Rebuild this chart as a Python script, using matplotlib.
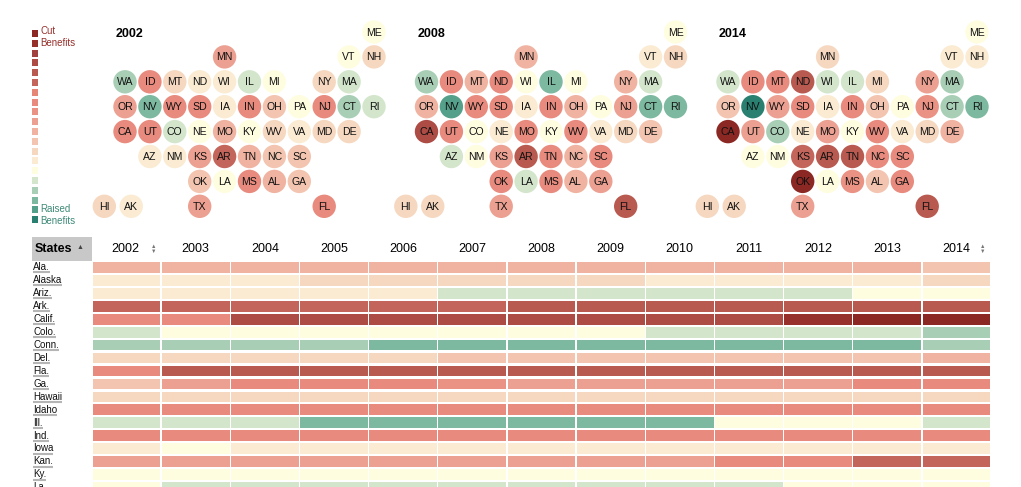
import matplotlib
matplotlib.use("Agg")
import matplotlib.pyplot as plt
from matplotlib.patches import Circle, Rectangle

plt.rcParams['font.family'] = ['Liberation Sans', 'DejaVu Sans']

# 20-step colour scale, from "cut benefits" (0) to "raised benefits" (19)
palette = ['#8B2823', '#96302B', '#A0403F', '#AD4B45', '#B95A50',
           '#C4655B', '#E58677', '#E88A7D', '#EA9283', '#ECA091',
           '#F0B3A1', '#F3C5B0', '#F6D8C0', '#FAEBD2', '#FFFDE0',
           '#D3E6CC', '#A8CFB6', '#7DB8A0', '#55A08A', '#2A8070']

years = [2002, 2003, 2004, 2005, 2006, 2007, 2008,
         2009, 2010, 2011, 2012, 2013, 2014]
map_years = [2002, 2008, 2014]

# table rows (level on the colour scale for each year)
row_labels = ['Ala.', 'Alaska', 'Ariz.', 'Ark.', 'Calif.', 'Colo.', 'Conn.', 'Del.',
              'Fla.', 'Ga.', 'Hawaii', 'Idaho', 'Ill.', 'Ind.', 'Iowa', 'Kan.', 'Ky.', 'La.']
row_abbr = ['AL', 'AK', 'AZ', 'AR', 'CA', 'CO', 'CT', 'DE',
            'FL', 'GA', 'HI', 'ID', 'IL', 'IN', 'IA', 'KS', 'KY', 'LA']
row_levels = [
    [10, 10, 10, 10, 10, 10, 10, 10, 10, 10, 10, 10, 11],
    [13, 13, 13, 12, 12, 12, 12, 12, 13, 13, 13, 13, 12],
    [13, 13, 13, 13, 13, 15, 15, 15, 15, 15, 15, 14, 14],
    [5, 5, 5, 5, 5, 5, 4, 4, 4, 4, 4, 4, 4],
    [7, 7, 3, 3, 3, 3, 3, 3, 3, 3, 1, 0, 0],
    [15, 14, 14, 14, 14, 14, 14, 14, 15, 15, 15, 15, 16],
    [16, 16, 16, 16, 17, 17, 17, 17, 17, 17, 17, 17, 16],
    [12, 12, 12, 12, 12, 11, 11, 11, 11, 11, 11, 11, 10],
    [7, 4, 4, 4, 4, 4, 4, 4, 4, 4, 4, 4, 4],
    [11, 9, 7, 7, 7, 8, 9, 9, 9, 9, 9, 7, 7],
    [12, 12, 12, 12, 12, 12, 12, 12, 12, 12, 12, 12, 12],
    [7, 7, 7, 7, 7, 7, 7, 7, 7, 7, 7, 7, 7],
    [15, 15, 15, 17, 17, 17, 17, 17, 17, 14, 14, 14, 15],
    [7, 7, 7, 7, 7, 7, 7, 7, 7, 7, 7, 7, 7],
    [13, 14, 13, 13, 13, 13, 13, 13, 13, 13, 13, 13, 13],
    [9, 9, 9, 9, 9, 9, 9, 9, 9, 7, 7, 5, 5],
    [14, 14, 14, 14, 14, 14, 14, 14, 14, 14, 14, 14, 14],
    [14, 15, 15, 15, 15, 15, 15, 15, 15, 15, 14, 14, 14],
]

# map-only states for the three years shown
map_2002 = {'ME': 14, 'VT': 14, 'NH': 12, 'MN': 9, 'WA': 16, 'MT': 12, 'ND': 13, 'WI': 13,
            'MI': 14, 'NY': 12, 'MA': 15, 'OR': 9, 'NV': 17, 'WY': 7, 'SD': 7, 'OH': 11,
            'PA': 14, 'NJ': 7, 'RI': 15, 'UT': 7, 'NE': 14, 'MO': 10, 'WV': 12, 'VA': 13,
            'MD': 12, 'NM': 13, 'TN': 10, 'NC': 11, 'SC': 11, 'OK': 11, 'MS': 7, 'TX': 9}
map_2008 = {'ME': 14, 'VT': 13, 'NH': 12, 'MN': 10, 'WA': 16, 'MT': 10, 'ND': 7, 'WI': 14,
            'MI': 14, 'NY': 10, 'MA': 15, 'OR': 10, 'NV': 18, 'WY': 7, 'SD': 7, 'OH': 10,
            'PA': 14, 'NJ': 9, 'RI': 17, 'UT': 7, 'NE': 13, 'MO': 7, 'WV': 7, 'VA': 13,
            'MD': 12, 'NM': 14, 'TN': 7, 'NC': 10, 'SC': 7, 'OK': 7, 'MS': 7, 'TX': 9}
map_2014 = {'ME': 14, 'VT': 13, 'NH': 13, 'MN': 12, 'WA': 15, 'MT': 7, 'ND': 4, 'WI': 15,
            'MI': 12, 'NY': 9, 'MA': 16, 'OR': 11, 'NV': 19, 'WY': 9, 'SD': 7, 'OH': 11,
            'PA': 14, 'NJ': 8, 'RI': 17, 'UT': 9, 'NE': 13, 'MO': 9, 'WV': 7, 'VA': 13,
            'MD': 12, 'NM': 14, 'TN': 4, 'NC': 7, 'SC': 7, 'OK': 0, 'MS': 8, 'TX': 9}
map_levels = {2002: map_2002, 2008: map_2008, 2014: map_2014}

# tile grid (column, row)
tile_pos = {
    'ME': (10, 0),
    'MN': (4, 1), 'VT': (9, 1), 'NH': (10, 1),
    'WA': (0, 2), 'ID': (1, 2), 'MT': (2, 2), 'ND': (3, 2), 'WI': (4, 2), 'IL': (5, 2),
    'MI': (6, 2), 'NY': (8, 2), 'MA': (9, 2),
    'OR': (0, 3), 'NV': (1, 3), 'WY': (2, 3), 'SD': (3, 3), 'IA': (4, 3), 'IN': (5, 3),
    'OH': (6, 3), 'PA': (7, 3), 'NJ': (8, 3), 'CT': (9, 3), 'RI': (10, 3),
    'CA': (0, 4), 'UT': (1, 4), 'CO': (2, 4), 'NE': (3, 4), 'MO': (4, 4), 'KY': (5, 4),
    'WV': (6, 4), 'VA': (7, 4), 'MD': (8, 4), 'DE': (9, 4),
    'AZ': (1, 5), 'NM': (2, 5), 'KS': (3, 5), 'AR': (4, 5), 'TN': (5, 5), 'NC': (6, 5),
    'SC': (7, 5),
    'OK': (3, 6), 'LA': (4, 6), 'MS': (5, 6), 'AL': (6, 6), 'GA': (7, 6),
    'HI': (-0.83, 7), 'AK': (0.25, 7), 'TX': (3, 7), 'FL': (8, 7),
}

fig = plt.figure(figsize=(10.21, 4.87), dpi=100)
ax = fig.add_axes([0, 0, 1, 1])
ax.set_xlim(0, 1021)
ax.set_ylim(487, 0)
ax.axis('off')

# legend
for i, c in enumerate(palette):
    ax.add_patch(Rectangle((32, 30 + i * 9.8), 6, 7, color=c, lw=0))
ax.text(40, 31, 'Cut', fontsize=7, color=palette[1], va='center')
ax.text(40, 43, 'Benefits', fontsize=7, color=palette[1], va='center')
ax.text(40, 209, 'Raised', fontsize=7, color='#3E8A78', va='center')
ax.text(40, 221, 'Benefits', fontsize=7, color='#3E8A78', va='center')

# tile maps
step = 24.9
for k, yr in enumerate(map_years):
    x0 = 125 + k * 301.5
    y0 = 32
    ax.text(x0 - 9, 34, str(yr), fontsize=9, fontweight='bold', va='center', ha='left')
    lv = dict(map_levels[yr])
    col = years.index(yr)
    for ab, row in zip(row_abbr, row_levels):
        lv[ab] = row[col]
    for ab, (cx, cy) in tile_pos.items():
        px, py = x0 + cx * step, y0 + cy * step
        ax.add_patch(Circle((px, py), 11.7, color=palette[lv[ab]], lw=0))
        ax.text(px, py + 0.5, ab, fontsize=7.6, ha='center', va='center', color='#111111')

# table header
ax.add_patch(Rectangle((32, 237), 60, 24, color='#C8C8C8', lw=0))
ax.text(35, 249.5, 'States', fontsize=9, fontweight='bold', va='center')
ax.text(77, 247.5, '▲', fontsize=5, color='#444444', va='center')

tx0, cw = 92, 69.15
ry0, rh = 262, 12.95
for j, yr in enumerate(years):
    ax.text(tx0 + j * cw + cw / 2 - (1.5 if j == 0 else 0), 249.5, str(yr), fontsize=9,
            ha='center', va='center')
for j in (0, len(years) - 1):
    sx = tx0 + j * cw + cw - 8
    ax.text(sx, 246.5, '▲', fontsize=4, color='#777777', ha='center', va='center')
    ax.text(sx, 251.5, '▼', fontsize=4, color='#777777', ha='center', va='center')

# table rows
renderer = fig.canvas.get_renderer()
for i, (lab, row) in enumerate(zip(row_labels, row_levels)):
    top = ry0 + i * rh
    for j, v in enumerate(row):
        ax.add_patch(Rectangle((tx0 + j * cw + 0.7, top), cw - 1.4, rh - 2.2,
                               color=palette[v], lw=0))
    t = ax.text(33, top + 5.2, lab, fontsize=7, va='center', color='#111111')
    bb = t.get_window_extent(renderer)
    ax.plot([33, 33 + bb.width], [top + 10.4, top + 10.4], color='#B5B5B5', lw=1.5,
            solid_capstyle='butt')

fig.savefig('out.png', dpi=100)
